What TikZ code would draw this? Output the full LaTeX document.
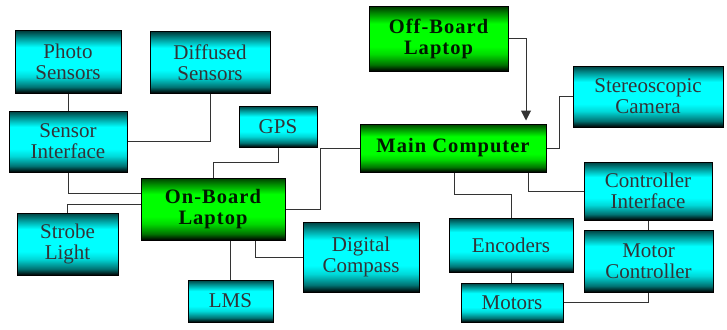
\documentclass[tikz,border=0pt]{standalone}
\usepackage{fontspec}
\setmainfont{Liberation Serif}
\usetikzlibrary{calc,arrows.meta}
\pgfdeclareverticalshading{cyanbar}{100bp}{color(0bp)=(black); color(25bp)=(black); color(30bp)=(cyan!45!black); color(38bp)=(cyan!85!black); color(44bp)=(cyan); color(62bp)=(cyan); color(70bp)=(cyan!55!black); color(75bp)=(cyan!25!black); color(100bp)=(cyan!25!black)}
\pgfdeclareverticalshading{greenbar}{100bp}{color(0bp)=(black); color(25bp)=(black); color(30bp)=(green!45!black); color(38bp)=(green!85!black); color(44bp)=(green); color(62bp)=(green); color(70bp)=(green!55!black); color(75bp)=(green!25!black); color(100bp)=(green!25!black)}
\tikzset{
  box/.style={draw=black, line width=1pt, inner sep=0pt, align=center,
    font=\fontsize{21}{21}\selectfont, text=black!90!cyan},
  cbox/.style={box, shading=cyanbar},
  gbox/.style={box, shading=greenbar, font=\fontsize{20.5}{21}\selectfont\bfseries\addfontfeature{LetterSpace=5}, text=black!90!green},
  link/.style={draw=black!80, line width=1pt},
}
\begin{document}
\begin{tikzpicture}[x=1pt,y=-1pt]
\useasboundingbox (0,0) rectangle (727,329);
\node[cbox, minimum width=106, minimum height=62] (photo) at (68,62) {Photo\\Sensors};
\node[cbox, minimum width=120, minimum height=61] (diff) at (210,62.5) {Diffused\\Sensors};
\node[cbox, minimum width=118, minimum height=61] (sensif) at (68,141.5) {Sensor\\Interface};
\node[cbox, minimum width=78, minimum height=41] (gps) at (278,126.5) {GPS};
\node[gbox, minimum width=144, minimum height=62] (onboard) at (213,209) {On-Board\\Laptop};
\node[cbox, minimum width=101, minimum height=62] (strobe) at (67.5,244) {Strobe\\Light};
\node[cbox, minimum width=85, minimum height=42] (lms) at (230.5,301) {LMS};
\node[cbox, minimum width=116, minimum height=70] (compass) at (361,257) {Digital\\Compass};
\node[gbox, minimum width=139, minimum height=64] (offboard) at (438.5,39) {Off-Board\\Laptop};
\node[gbox, minimum width=186, minimum height=48] (main) at (453,148) {Main Computer};
\node[cbox, minimum width=150, minimum height=61] (stereo) at (648,96.5) {Stereoscopic\\Camera};
\node[cbox, minimum width=128, minimum height=58] (ctrlif) at (648,191) {Controller\\Interface};
\node[cbox, minimum width=124, minimum height=54] (enc) at (511,245) {Encoders};
\node[cbox, minimum width=129, minimum height=62] (motorctl) at (648.5,261) {Motor\\Controller};
\node[cbox, minimum width=102, minimum height=39] (motors) at (512,302.5) {Motors};

\draw[link] (photo.south) -- (sensif.north);
\draw[link] (diff.south) |- (sensif.east);
\draw[link] (gps.south) -- ++(0,15) -| (onboard.north);
\draw[link] (main.west) -- ++(-39,0) |- (onboard.east);
\draw[link] (sensif.south) |- ($(onboard.west)+(0,-16)$);
\draw[link] ($(onboard.west)+(0,-5)$) -| (strobe.north);
\draw[link] (lms.north) -- (lms.north |- onboard.south);
\draw[link] ($(onboard.south)+(42,0)$) |- (compass.west);
\draw[link, -{Triangle[length=10pt,width=10pt]}, shorten >=3pt] (offboard.east) -| ($(main.north)+(73,0)$);
\draw[link] (main.east) -- ++(13,0) |- (stereo.west);
\draw[link] ($(main.south)+(75,0)$) |- (ctrlif.west);
\draw[link] ($(main.south)+(1,0)$) -- ++(0,22) -| (enc.north);
\draw[link] (ctrlif.south) -- (ctrlif.south |- motorctl.north);
\draw[link] (enc.south) -- (enc.south |- motors.north);
\draw[link] (motors.east) -| (motorctl.south);
\end{tikzpicture}
\end{document}
